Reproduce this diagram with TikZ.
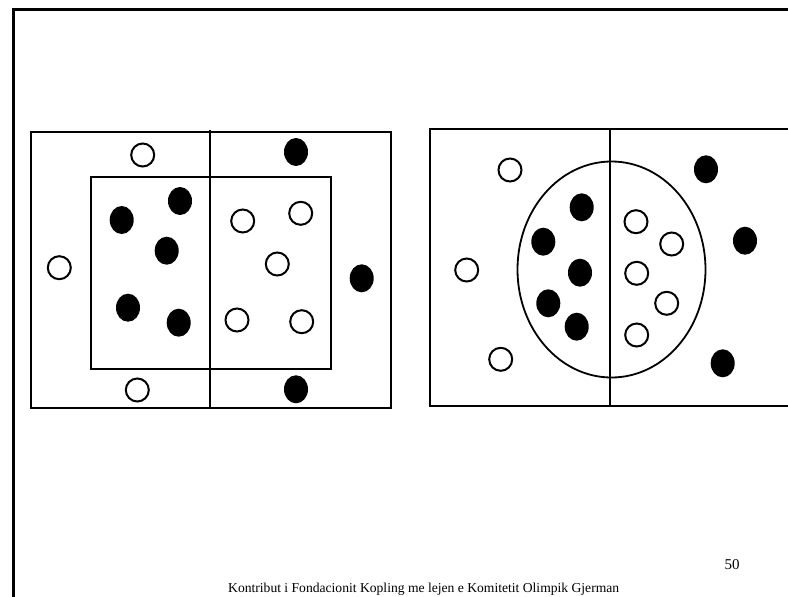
\documentclass[tikz,border=0pt]{standalone}
\usepackage{fontspec}
\setmainfont{Liberation Serif}
\usetikzlibrary{shapes.geometric}

\begin{document}
\begin{tikzpicture}[x=1pt, y=-1pt, line width=2.4pt,
  whiteball/.style={circle, draw, line width=2pt, fill=white, minimum size=23pt, inner sep=0pt},
  blackball/.style={ellipse, fill=black, minimum width=24pt, minimum height=28pt, inner sep=0pt}]
\useasboundingbox (0,0) rectangle (788,597);
% slide frame
\draw[line width=2.4pt] (13.5,597) -- (13.5,9.5) -- (788,9.5);

% left field: square inside the pitch
\draw (31,132) rectangle (391,408);
\draw (91,177) rectangle (331,369);
\draw (210,130) -- (210,408);
\node (lw1) [whiteball] at (142.7,155) {};
\node (lw2) [whiteball] at (59.3,267.7) {};
\node (lw3) [whiteball] at (137.3,390) {};
\node (lw4) [whiteball] at (242.7,221) {};
\node (lw5) [whiteball] at (300.7,213.3) {};
\node (lw6) [whiteball] at (277.3,264) {};
\node (lw7) [whiteball] at (237,320) {};
\node (lw8) [whiteball] at (301.7,321.7) {};
\node (lb1) [blackball] at (296,152) {};
\node (lb2) [blackball] at (180,201) {};
\node (lb3) [blackball] at (121.7,220) {};
\node (lb4) [blackball] at (166.7,250.7) {};
\node (lb5) [blackball] at (128,307.7) {};
\node (lb6) [blackball] at (178.7,322.7) {};
\node (lb7) [blackball] at (361.7,278.3) {};
\node (lb8) [blackball] at (296,389.3) {};

% right field: circle inside the pitch
\draw (800,129) -- (430,129) -- (430,406) -- (800,406);
\draw (610,129) -- (610,406);
\draw[line width=1.8pt] (611.5,269.5) ellipse [x radius=94pt, y radius=108pt];
\node (rw1) [whiteball] at (510,170) {};
\node (rw2) [whiteball] at (636,221.7) {};
\node (rw3) [whiteball] at (671.7,244) {};
\node (rw4) [whiteball] at (466.7,270) {};
\node (rw5) [whiteball] at (636.7,273.3) {};
\node (rw6) [whiteball] at (666.7,303.3) {};
\node (rw7) [whiteball] at (636.7,335) {};
\node (rw8) [whiteball] at (500.7,359.3) {};
\node (rb1) [blackball] at (706,169.3) {};
\node (rb2) [blackball] at (581.7,207.3) {};
\node (rb3) [blackball] at (543.3,241.7) {};
\node (rb4) [blackball] at (745,240.7) {};
\node (rb5) [blackball] at (580,272.7) {};
\node (rb6) [blackball] at (548.3,303.3) {};
\node (rb7) [blackball] at (576.7,326.7) {};
\node (rb8) [blackball] at (722.7,363.3) {};

% page number and credit line
\node (pagenr) at (732,565) {\fontsize{15}{17}\selectfont 50};
\node (credit) [anchor=base west, inner sep=0pt] at (227,592.5) {\fontsize{13.6}{15}\selectfont Kontribut i Fondacionit Kopling me lejen e Komitetit Olimpik Gjerman};
\end{tikzpicture}
\end{document}
